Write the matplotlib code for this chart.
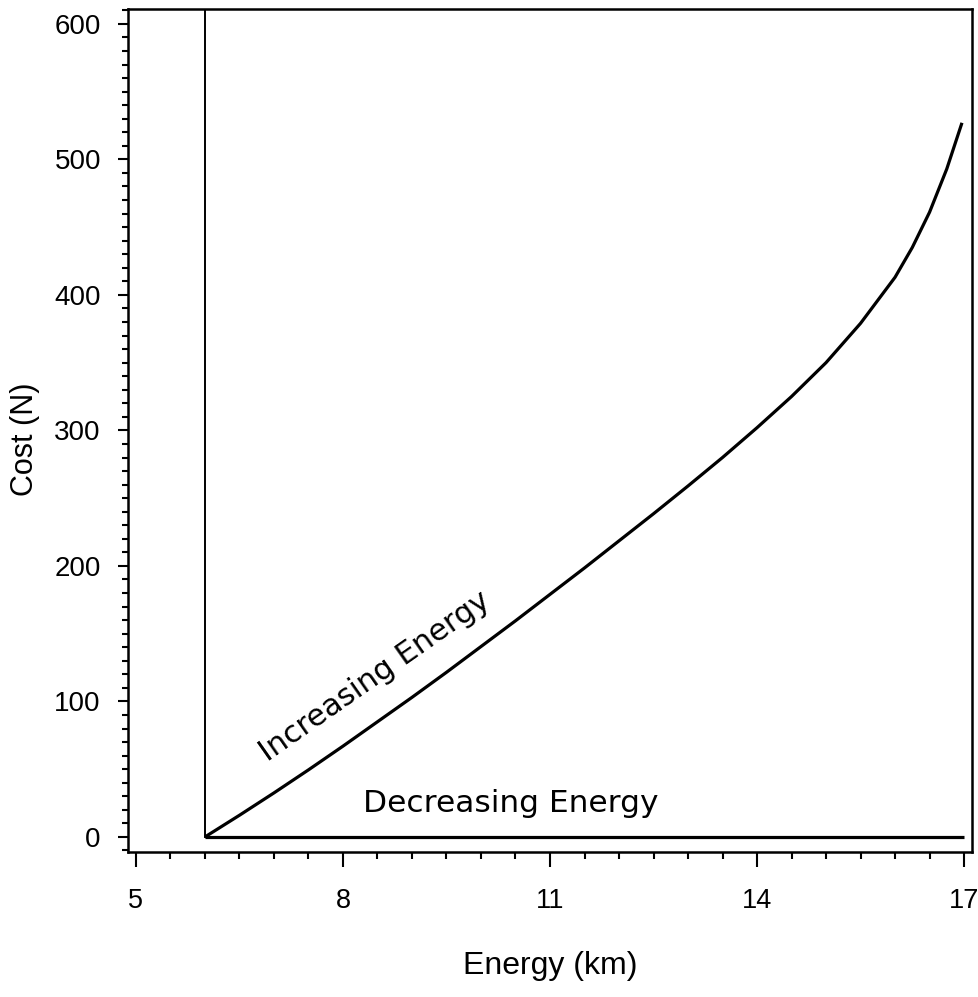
import matplotlib
matplotlib.use("Agg")
import matplotlib.pyplot as plt
from matplotlib.ticker import MultipleLocator

# Data
inc_energy = [6, 6.5, 7, 7.5, 8, 8.5, 9, 9.5, 10, 10.5, 11, 11.5, 12, 12.5,
              13, 13.5, 14, 14.5, 15, 15.5, 16, 16.25, 16.5, 16.75, 16.97]
inc_cost = [0, 16, 32.5, 49.5, 67, 85, 103, 121.5, 140.5, 159.5, 179, 198.5,
            218.5, 238.5, 259, 280, 302, 325, 350, 379, 413, 435, 461, 493, 527]
dec_energy = [6, 17]
dec_cost = [0, 0]
wall_energy = [6, 6]
wall_cost = [0, 611]

x_ticks = [5, 8, 11, 14, 17]
y_ticks = [0, 100, 200, 300, 400, 500, 600]

narrow = ['Liberation Sans', 'DejaVu Sans']

fig = plt.figure(figsize=(9.79, 9.97), dpi=100)
ax = fig.add_axes([0.1307, 0.1455, 0.8622, 0.8455])

ax.plot(inc_energy, inc_cost, color='black', lw=2.3, solid_capstyle='butt',
        solid_joinstyle='round')
ax.plot(dec_energy, dec_cost, color='black', lw=2.3, solid_capstyle='butt')
ax.plot(wall_energy, wall_cost, color='black', lw=1.4)

ax.set_xlim(4.884, 17.116)
ax.set_ylim(-11.07, 611)

ax.set_xticks(x_ticks)
ax.set_yticks(y_ticks)
ax.xaxis.set_minor_locator(MultipleLocator(0.5))
ax.yaxis.set_minor_locator(MultipleLocator(10))

for s in ax.spines.values():
    s.set_linewidth(1.8)

ax.tick_params(axis='x', which='major', length=11, width=1.5, pad=15, labelsize=19.5)
ax.tick_params(axis='x', which='minor', length=5, width=1.5)
ax.tick_params(axis='y', which='major', length=7.5, width=1.5, pad=12, labelsize=20)
ax.tick_params(axis='y', which='minor', length=4, width=1.5)
for lab in ax.get_xticklabels() + ax.get_yticklabels():
    lab.set_family(narrow)

ax.set_xlabel('Energy (km)', fontsize=23, family=narrow)
ax.set_ylabel('Cost (N)', fontsize=22, family=narrow)
ax.xaxis.set_label_coords(0.5, -0.118)
ax.yaxis.set_label_coords(-0.104, 0.489)

ax.text(6.9, 55, 'Increasing Energy', rotation=35, rotation_mode='anchor',
        ha='left', va='baseline', fontsize=22, family='DejaVu Sans')
ax.text(8.29, 18.5, 'Decreasing Energy', ha='left', va='baseline',
        fontsize=22.5, family='DejaVu Sans')

fig.savefig('out.png', dpi=100)
